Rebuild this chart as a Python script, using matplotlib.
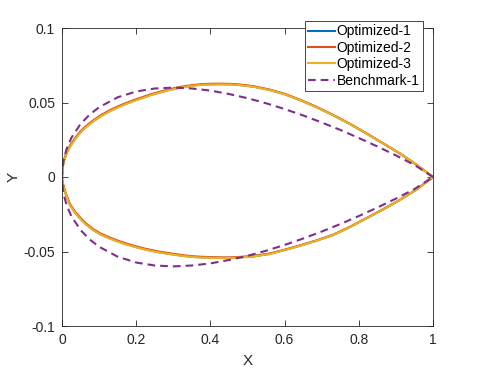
import numpy as np
import matplotlib.pyplot as plt

plt.rcParams['font.family'] = ['Liberation Sans', 'DejaVu Sans']

# optimized profile
x_opt = [0, 0.0005, 0.002, 0.0054, 0.012, 0.0216, 0.035, 0.0485, 0.065, 0.0844, 0.105,
         0.129, 0.15, 0.174, 0.195, 0.219, 0.24, 0.264, 0.285, 0.309, 0.33, 0.354,
         0.375, 0.399, 0.425, 0.45, 0.47, 0.515, 0.56, 0.6, 0.64, 0.685, 0.73, 0.775,
         0.82, 0.865, 0.91, 0.955, 1.0]
upper_opt = [0, 0.0035, 0.0068, 0.0110, 0.0158, 0.0205, 0.0255, 0.0297, 0.0337, 0.0375,
             0.0410, 0.0443, 0.0468, 0.0493, 0.0513, 0.0533, 0.0551, 0.0568, 0.0582,
             0.0595, 0.0605, 0.0614, 0.0619, 0.0622, 0.0623, 0.0622, 0.0620, 0.0607,
             0.0584, 0.0556, 0.0518, 0.0470, 0.0416, 0.0357, 0.0293, 0.0226, 0.0159,
             0.0083, 0]
lower_opt = [0, -0.0022, -0.0045, -0.0076, -0.0128, -0.0188, -0.0238, -0.0277, -0.0318,
             -0.0356, -0.0386, -0.0412, -0.0432, -0.0452, -0.0467, -0.0483, -0.0494,
             -0.0506, -0.0514, -0.0523, -0.0530, -0.0536, -0.0539, -0.0541, -0.0543,
             -0.0543, -0.0541, -0.0533, -0.0516, -0.0490, -0.0462, -0.0428, -0.0390,
             -0.0337, -0.0278, -0.0218, -0.0155, -0.0085, 0]
# shift of the second and third runs against the first
shift_2 = 0.0006
shift_3 = -0.0002

# benchmark profile (symmetric)
x_bench = [0, 0.0025, 0.005, 0.0125, 0.025, 0.05, 0.075, 0.1, 0.15, 0.2, 0.25, 0.3,
           0.35, 0.4, 0.45, 0.5, 0.55, 0.6, 0.65, 0.7, 0.75, 0.8, 0.85, 0.9, 0.95, 1.0]
y_bench = [0, 0.0085, 0.0122, 0.0189, 0.0262, 0.0356, 0.0420, 0.0468, 0.0535, 0.0574,
           0.0594, 0.0600, 0.0594, 0.0580, 0.0557, 0.0529, 0.0495, 0.0456, 0.0413,
           0.0366, 0.0316, 0.0262, 0.0205, 0.0145, 0.0081, 0]

colors = ['#0072BD', '#D95319', '#EDB120', '#7E2F8E']


def closed(x, up, lo, shift=0.0):
    x = np.asarray(x)
    taper = 1 - x  # runs meet at the trailing edge
    up = np.asarray(up) + shift * taper
    lo = np.asarray(lo) + shift * taper
    xs = np.concatenate([x[::-1], x[1:]])
    ys = np.concatenate([up[::-1], lo[1:]])
    return xs, ys


fig = plt.figure(figsize=(4.79, 3.70), dpi=100)
ax = fig.add_axes([62 / 479, 44 / 370, 371 / 479, 298 / 370])

xs, ys = closed(x_opt, upper_opt, lower_opt)
ax.plot(xs, ys, color=colors[0], lw=1.5, label='Optimized-1')
xs, ys = closed(x_opt, upper_opt, lower_opt, shift_2)
ax.plot(xs, ys, color=colors[1], lw=1.5, label='Optimized-2')
xs, ys = closed(x_opt, upper_opt, lower_opt, shift_3)
ax.plot(xs, ys, color=colors[2], lw=1.5, label='Optimized-3')
xs, ys = closed(x_bench, y_bench, [-v for v in y_bench])
ax.plot(xs, ys, color=colors[3], lw=1.5, ls=(0, (3.7, 2.4)), label='Benchmark-1')

ax.set_xlim(0, 1)
ax.set_ylim(-0.1, 0.1)
ax.set_xticks([0, 0.2, 0.4, 0.6, 0.8, 1])
ax.set_xticklabels(['0', '0.2', '0.4', '0.6', '0.8', '1'])
ax.set_yticks([-0.1, -0.05, 0, 0.05, 0.1])
ax.set_yticklabels(['-0.1', '-0.05', '0', '0.05', '0.1'])
ax.tick_params(direction='in', length=4, width=0.6, colors='#262626',
               labelsize=10, top=True, right=True, pad=5)
for s in ax.spines.values():
    s.set_color('#262626')
    s.set_linewidth(0.6)
ax.set_xlabel('X', fontsize=11, color='#262626', labelpad=5)
ax.set_ylabel('Y', fontsize=11, color='#262626', labelpad=2)

leg = ax.legend(loc='upper right', bbox_to_anchor=(423 / 479, 1 - 21 / 370),
                bbox_transform=fig.transFigure, borderaxespad=0, fontsize=10,
                fancybox=False, framealpha=1, edgecolor='#262626',
                handlelength=1.9, handletextpad=0.15, labelspacing=0.17,
                borderpad=0.25)
leg.get_frame().set_linewidth(0.6)

fig.savefig('out.png', dpi=100)
